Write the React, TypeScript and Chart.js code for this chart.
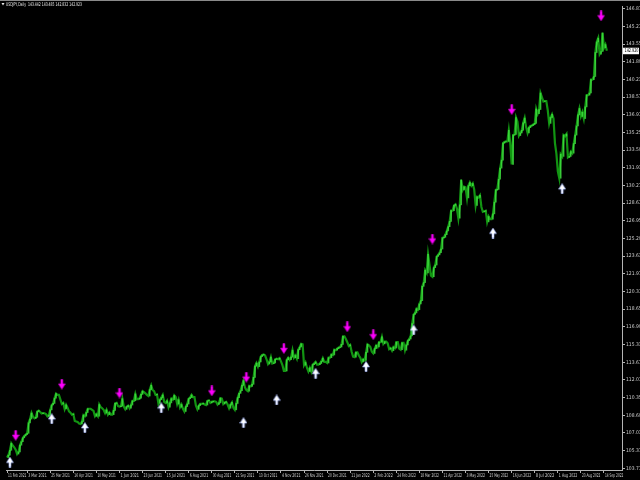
import React, { useEffect, useRef } from "react";
import { Chart, registerables } from "chart.js";
Chart.register(...registerables);

// Daily closes USDJPY (one value per trading day, from 11 Feb 2021)
const closesFeb21 = [104.72, 104.95, 105.4, 106.05, 105.85, 105.68, 105.45, 105.05, 105.25, 105.88, 106.2, 106.57];
const closesMar21 = [106.75, 106.88, 107.0, 107.98, 108.34, 108.9, 108.55, 108.4, 108.5, 109.04, 109.13, 109.0, 108.85, 108.9, 108.88, 108.8, 108.58, 108.7, 109.2, 109.65, 109.8, 110.3, 110.72];
const closesApr21 = [110.6, 110.6, 110.18, 109.75, 109.85, 109.28, 109.67, 109.4, 109.05, 108.93, 108.75, 108.8, 108.15, 108.1, 108.05, 107.92, 107.87, 108.1, 108.7, 108.6, 108.95, 109.3];
const closesMay21 = [109.3, 109.3, 109.2, 109.1, 108.6, 108.8, 108.6, 109.7, 109.45, 109.35, 109.2, 108.9, 109.2, 108.75, 108.95, 108.75, 108.75, 109.15, 109.8, 109.85, 109.55];
const closesJun21 = [109.5, 109.55, 110.25, 109.5, 109.25, 109.5, 109.6, 109.35, 109.65, 110.05, 110.05, 110.7, 110.2, 110.2, 110.3, 110.65, 110.95, 110.85, 110.75, 110.6, 110.5, 111.1];
const closesJul21 = [111.5, 111.05, 110.95, 110.6, 110.65, 109.8, 110.15, 110.35, 110.6, 109.95, 109.85, 110.05, 109.45, 109.85, 110.25, 110.15, 110.55, 110.4, 109.75, 110.15, 109.45, 109.7];
const closesAug21 = [109.3, 109.05, 109.5, 109.75, 110.25, 110.35, 110.6, 110.4, 110.4, 109.6, 109.25, 109.6, 109.75, 109.75, 109.8, 109.7, 109.65, 110.05, 110.1, 109.85, 109.95, 110.0];
const closesSep21 = [110.0, 109.95, 109.7, 109.85, 110.3, 110.25, 109.75, 109.9, 109.95, 109.7, 109.35, 109.7, 109.9, 109.4, 109.2, 109.8, 110.35, 110.75, 111.0, 111.5, 111.95, 111.3];
const closesOct21 = [111.05, 110.95, 111.45, 111.4, 111.6, 112.25, 113.3, 113.6, 113.25, 113.7, 114.2, 114.35, 114.4, 114.3, 113.95, 113.5, 113.7, 114.15, 113.55, 113.6, 113.95];
const closesNov21 = [114.0, 113.95, 114.05, 113.75, 113.4, 112.85, 112.85, 113.9, 114.1, 113.9, 114.15, 114.8, 114.1, 114.3, 114.0, 114.85, 115.1, 115.4, 115.35, 113.4, 113.65, 113.15];
const closesDec21 = [112.8, 113.15, 112.8, 113.45, 113.55, 113.7, 113.45, 113.45, 113.55, 113.75, 114.05, 113.7, 113.7, 113.6, 114.1, 114.1, 114.4, 114.35, 114.85, 114.8, 114.95, 115.05, 115.1];
const closesJan22 = [115.35, 116.1, 116.1, 115.85, 115.55, 115.2, 115.3, 114.65, 114.2, 114.15, 114.6, 114.6, 114.3, 114.1, 113.7, 113.95, 113.85, 114.6, 115.35, 115.25, 115.1];
const closesFeb22 = [114.65, 114.5, 114.95, 115.25, 115.1, 115.55, 115.55, 116.05, 115.4, 115.6, 115.6, 115.45, 114.9, 115.0, 114.75, 115.1, 115.0, 115.55, 115.55, 114.95];
const closesMar22 = [114.85, 115.5, 115.5, 114.8, 115.3, 115.7, 115.85, 116.15, 117.3, 118.15, 118.3, 118.7, 118.6, 119.15, 119.45, 120.8, 121.15, 122.3, 122.05, 123.8, 122.8, 121.8, 121.7];
const closesApr22 = [122.55, 122.8, 123.6, 123.75, 123.95, 124.3, 125.35, 125.4, 125.65, 126.0, 126.4, 126.9, 127.9, 127.9, 128.4, 128.5, 128.1, 127.2, 128.45, 130.8, 129.85];
const closesMay22 = [130.15, 130.1, 129.1, 130.25, 130.55, 130.25, 130.45, 129.9, 128.4, 129.2, 129.15, 129.35, 128.25, 127.8, 127.85, 127.9, 126.85, 127.35, 127.1, 127.1, 127.6, 128.7];
const closesJun22 = [129.85, 129.9, 130.85, 131.9, 132.65, 134.25, 134.35, 134.4, 134.4, 135.45, 134.25, 132.25, 135.0, 135.05, 136.65, 136.25, 134.95, 135.2, 135.45, 136.15, 136.6, 135.75];
const closesJul22 = [135.2, 135.7, 135.85, 135.9, 136.0, 136.1, 137.45, 137.0, 137.4, 138.95, 138.55, 138.15, 138.2, 138.2, 137.35, 136.1, 136.65, 136.95, 136.55, 134.25, 133.25];
const closesAug22 = [131.6, 130.95, 133.2, 133.0, 135.0, 134.9, 135.1, 132.9, 133.0, 133.45, 133.3, 134.2, 135.0, 135.85, 136.9, 137.5, 136.75, 137.15, 136.55, 137.65, 138.75, 138.75, 138.95];
const closesSep22 = [140.2, 140.2, 140.5, 142.75, 143.75, 144.1, 142.6, 142.85, 144.6, 143.2, 143.5, 142.92];

const closes = [
  ...closesFeb21, ...closesMar21, ...closesApr21, ...closesMay21, ...closesJun21, ...closesJul21,
  ...closesAug21, ...closesSep21, ...closesOct21, ...closesNov21, ...closesDec21, ...closesJan22,
  ...closesFeb22, ...closesMar22, ...closesApr22, ...closesMay22, ...closesJun22, ...closesJul22,
  ...closesAug22, ...closesSep22,
];

// X axis tick labels (bar index -> date label)
const xTickIndex = [0, 14, 30, 46, 62, 78, 94, 110, 126, 142, 158, 174, 190, 206, 222, 238, 254, 270, 286, 302, 318, 334, 350, 366, 382, 398, 414];
const xTickLabels = [
  "11 Feb 2021", "3 Mar 2021", "25 Mar 2021", "16 Apr 2021", "10 May 2021", "1 Jun 2021", "23 Jun 2021",
  "15 Jul 2021", "6 Aug 2021", "30 Aug 2021", "21 Sep 2021", "13 Oct 2021", "4 Nov 2021", "26 Nov 2021",
  "20 Dec 2021", "11 Jan 2022", "2 Feb 2022", "24 Feb 2022", "18 Mar 2022", "11 Apr 2022", "3 May 2022",
  "25 May 2022", "16 Jun 2022", "8 Jul 2022", "1 Aug 2022", "23 Aug 2022", "14 Sep 2022",
];

// Y axis tick values
const yTickValues = [
  146.87, 145.21, 143.55, 141.89, 140.23, 138.57, 136.91, 135.25, 133.59, 131.93, 130.27, 128.61, 126.95,
  125.29, 123.63, 121.97, 120.31, 118.65, 116.99, 115.33, 113.67, 112.01, 110.35, 108.69, 107.03, 105.37, 103.71,
];

// Signal arrows
const downIdx = [6, 38, 78, 142, 166, 192, 236, 254, 295, 350, 412];
const downPrice = [106.8, 111.6, 110.78, 110.97, 112.26, 114.95, 116.99, 116.25, 125.24, 137.39, 146.19];
const upIdx = [2, 31, 54, 107, 164, 187, 214, 249, 282, 337, 385];
const upPrice = [104.29, 108.37, 107.54, 109.39, 108.0, 110.13, 112.63, 113.28, 116.71, 125.8, 129.97];

const headerText = "USDJPY,Daily  143.442 143.485 142.832 142.923";

const AXIS = "#b4b4b4";
const TEXT = "#d0d0d0";
const FONT = "'DejaVu Sans Condensed', 'Liberation Sans', sans-serif";

function makeArrow(color: string, edge: string, down: boolean) {
  const c = document.createElement("canvas");
  c.width = 8;
  c.height = 11;
  const g = c.getContext("2d")!;
  g.fillStyle = color;
  g.strokeStyle = edge;
  g.lineWidth = 0.6;
  g.beginPath();
  if (down) {
    g.moveTo(3, 0.5); g.lineTo(5, 0.5); g.lineTo(5, 5); g.lineTo(7.5, 5);
    g.lineTo(4, 10.5); g.lineTo(0.5, 5); g.lineTo(3, 5);
  } else {
    g.moveTo(4, 0.5); g.lineTo(7.5, 6); g.lineTo(5, 6); g.lineTo(5, 10.5);
    g.lineTo(3, 10.5); g.lineTo(3, 6); g.lineTo(0.5, 6);
  }
  g.closePath();
  g.fill();
  g.stroke();
  return c;
}

const overlayPlugin = {
  id: "mtOverlay",
  afterDraw(chart: any) {
    const ctx = chart.ctx;
    const area = chart.chartArea;
    const y = chart.scales.y;
    const x = chart.scales.x;
    ctx.save();
    // top frame line
    ctx.strokeStyle = "#8a8a8a";
    ctx.lineWidth = 1;
    ctx.beginPath();
    ctx.moveTo(0, 0.5);
    ctx.lineTo(640, 0.5);
    ctx.stroke();
    // header
    ctx.fillStyle = "#e8e8e8";
    ctx.beginPath();
    ctx.moveTo(1.5, 3);
    ctx.lineTo(4.5, 3);
    ctx.lineTo(3, 5.5);
    ctx.closePath();
    ctx.fill();
    ctx.font = "5px " + FONT;
    ctx.textBaseline = "middle";
    ctx.textAlign = "left";
    ctx.fillText(headerText, 6, 4.5, 76);
    // x axis date labels (compressed like the terminal font)
    ctx.fillStyle = TEXT;
    ctx.font = "5px " + FONT;
    xTickIndex.forEach((v, i) => {
      const px = x.getPixelForValue(v);
      ctx.fillText(xTickLabels[i], Math.max(px + 1, 0), area.bottom + 6, 18.5);
    });
    // current price box
    const last = closes[closes.length - 1];
    const py = y.getPixelForValue(last);
    ctx.fillStyle = "#ffffff";
    ctx.fillRect(area.right + 1, py - 3, 16, 6.5);
    ctx.fillStyle = "#000000";
    ctx.fillText(last.toFixed(3), area.right + 2.5, py + 0.3, 14);
    ctx.restore();
  },
};

export default function App() {
  const ref = useRef<HTMLCanvasElement>(null);
  useEffect(() => {
    document.body.style.margin = "0";
    document.body.style.background = "#000";
    const downImg = makeArrow("#ff00ff", "#c000c0", true);
    const upImg = makeArrow("#ffffff", "#9fb4ff", false);
    const lineData = closes.map((c, i) => ({ x: i, y: c }));
    const moveBars = closes.map((c, i) => ({ x: i, y: [i === 0 ? c : closes[i - 1], c] }));
    const chart = new Chart(ref.current!, {
      type: "line",
      data: {
        datasets: [
          {
            type: "bar",
            data: moveBars as any,
            backgroundColor: moveBars.map((b: any) => (b.y[1] > b.y[0] ? "rgba(70,235,70,0.75)" : "rgba(0,0,0,0)")),
            barThickness: 1,
            order: 1,
          } as any,
          {
            type: "line",
            data: lineData,
            borderColor: "#129412",
            borderWidth: 2.2,
            pointRadius: 0,
            tension: 0,
            order: 2,
          },
          {
            type: "line",
            showLine: false,
            data: downIdx.map((x, i) => ({ x, y: downPrice[i] })),
            pointStyle: downImg as any,
            pointRadius: 5,
            order: 0,
          },
          {
            type: "line",
            showLine: false,
            data: upIdx.map((x, i) => ({ x, y: upPrice[i] })),
            pointStyle: upImg as any,
            pointRadius: 5,
            order: 0,
          },
        ],
      },
      options: {
        animation: false,
        responsive: false,
        maintainAspectRatio: false,
        layout: { padding: 0 },
        plugins: { legend: { display: false }, tooltip: { enabled: false } },
        scales: {
          x: {
            type: "linear",
            position: "bottom",
            offset: false,
            min: -0.7,
            max: 426.5,
            grid: { drawOnChartArea: false, color: AXIS, tickLength: 3, offset: false },
            border: { color: AXIS, width: 1 },
            ticks: {
              autoSkip: false,
              maxRotation: 0,
              align: "start",
              padding: 0,
              color: "rgba(0,0,0,0)",
              font: { size: 5, family: FONT },
              callback: () => "",
            },
            afterBuildTicks: (s: any) => {
              s.ticks = xTickIndex.map((v) => ({ value: v }));
            },
            afterFit: (s: any) => {
              s.height = 10;
              s.paddingLeft = 0;
              s.paddingRight = 0;
            },
          },
          y: {
            type: "linear",
            position: "right",
            min: 103.55,
            max: 147.12,
            grid: { drawOnChartArea: false, color: AXIS, tickLength: 3 },
            border: { color: AXIS, width: 1 },
            ticks: {
              autoSkip: false,
              padding: 1,
              color: TEXT,
              font: { size: 5, family: FONT },
              callback: (v: any) => Number(v).toFixed(3),
            },
            afterBuildTicks: (s: any) => {
              s.ticks = yTickValues.map((v) => ({ value: v }));
            },
            afterFit: (s: any) => {
              s.width = 18;
              s.paddingTop = 0;
              s.paddingBottom = 0;
            },
          },
        },
      } as any,
      plugins: [overlayPlugin],
    });
    return () => chart.destroy();
  }, []);
  return (
    <div style={{ position: "fixed", left: 0, top: 0, width: 640, height: 480, background: "#000" }}>
      <canvas ref={ref} width={640} height={480} style={{ display: "block" }} />
    </div>
  );
}
